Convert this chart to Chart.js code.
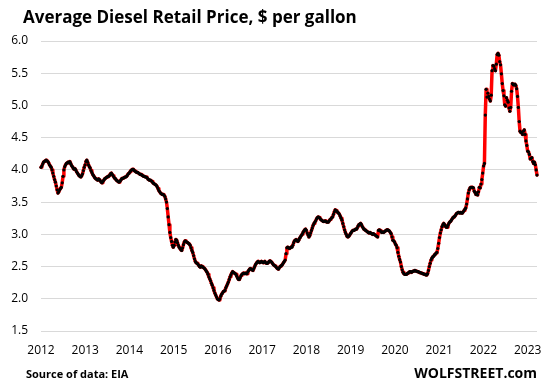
<!DOCTYPE html>
<html>
<head>
<meta charset="utf-8">
<script src="https://cdn.jsdelivr.net/npm/chart.js@4.4.1/dist/chart.umd.min.js"></script>
<style>
	html, body { margin: 0; padding: 0; background: #fff; }
	#wrap { position: relative; width: 543px; height: 387px; overflow: hidden; }
	#title { position: absolute; left: 23px; top: 5px; font: bold 17px "Open Sans", sans-serif; color: #000; white-space: nowrap; }
	#source { position: absolute; left: 26px; top: 366px; font: bold 11px "Open Sans", sans-serif; color: #000; white-space: nowrap; }
	#brand { position: absolute; right: 6px; top: 363px; font: bold 14px "Open Sans", sans-serif; color: #000; white-space: nowrap; }
</style>
</head>
<body>
<div id="wrap">
	<canvas id="diesel" width="543" height="387"></canvas>
	<div id="title">Average Diesel Retail Price, $ per gallon</div>
	<div id="source">Source of data: EIA</div>
	<div id="brand">WOLFSTREET.com</div>
</div>
<script>
// Weekly retail diesel price, $ per gallon, one array per chart year.
var y2012 = [ 4.04, 4.06, 4.09, 4.12, 4.13, 4.14, 4.15, 4.14, 4.13, 4.11, 4.08, 4.06, 4.04, 4.00, 3.95, 3.90, 3.85, 3.81, 3.75, 3.69, 3.64, 3.66, 3.69, 3.71, 3.73, 3.80, 3.90, 4.00, 4.05, 4.08, 4.10, 4.11, 4.12, 4.11, 4.13, 4.10, 4.07, 4.05, 4.03, 4.01, 4.02, 4.00, 3.97, 3.95, 3.93, 3.91, 3.90, 3.89, 3.91, 3.94, 3.99, 4.04 ];
var y2013 = [ 4.08, 4.13, 4.15, 4.12, 4.08, 4.05, 4.03, 3.99, 3.96, 3.93, 3.91, 3.89, 3.87, 3.86, 3.85, 3.84, 3.86, 3.85, 3.83, 3.81, 3.80, 3.82, 3.84, 3.86, 3.87, 3.88, 3.89, 3.90, 3.90, 3.92, 3.94, 3.95, 3.93, 3.91, 3.89, 3.87, 3.86, 3.84, 3.83, 3.82, 3.81, 3.82, 3.84, 3.86, 3.87, 3.87, 3.88, 3.89, 3.89, 3.90, 3.92, 3.94 ];
var y2014 = [ 3.95, 3.97, 3.99, 4.00, 4.01, 4.01, 3.99, 3.98, 3.97, 3.96, 3.96, 3.95, 3.94, 3.93, 3.93, 3.92, 3.91, 3.90, 3.90, 3.89, 3.89, 3.88, 3.86, 3.85, 3.84, 3.84, 3.83, 3.82, 3.80, 3.79, 3.78, 3.77, 3.76, 3.74, 3.71, 3.68, 3.66, 3.64, 3.63, 3.62, 3.62, 3.61, 3.59, 3.55, 3.50, 3.40, 3.27, 3.15, 3.03, 2.95, 2.89, 2.83 ];
var y2015 = [ 2.80, 2.83, 2.88, 2.92, 2.91, 2.87, 2.83, 2.80, 2.78, 2.76, 2.75, 2.79, 2.84, 2.88, 2.90, 2.89, 2.88, 2.87, 2.86, 2.85, 2.83, 2.79, 2.75, 2.72, 2.67, 2.62, 2.58, 2.56, 2.55, 2.54, 2.52, 2.50, 2.49, 2.51, 2.50, 2.49, 2.48, 2.47, 2.45, 2.43, 2.41, 2.38, 2.34, 2.31, 2.28, 2.24, 2.21, 2.17, 2.13, 2.09, 2.06, 2.03 ];
var y2016 = [ 2.00, 1.99, 1.98, 2.00, 2.04, 2.07, 2.09, 2.11, 2.12, 2.13, 2.17, 2.20, 2.23, 2.26, 2.30, 2.34, 2.37, 2.40, 2.42, 2.41, 2.40, 2.39, 2.38, 2.35, 2.32, 2.30, 2.30, 2.33, 2.36, 2.38, 2.39, 2.40, 2.39, 2.40, 2.39, 2.39, 2.42, 2.44, 2.46, 2.47, 2.46, 2.45, 2.44, 2.47, 2.50, 2.53, 2.55, 2.57, 2.58, 2.57, 2.56, 2.57 ];
var y2017 = [ 2.58, 2.57, 2.56, 2.57, 2.58, 2.56, 2.55, 2.55, 2.56, 2.58, 2.59, 2.58, 2.57, 2.55, 2.53, 2.52, 2.51, 2.50, 2.48, 2.47, 2.46, 2.48, 2.50, 2.51, 2.52, 2.54, 2.56, 2.58, 2.60, 2.70, 2.79, 2.80, 2.79, 2.78, 2.79, 2.80, 2.80, 2.83, 2.87, 2.90, 2.91, 2.92, 2.90, 2.89, 2.91, 2.94, 2.96, 2.98, 3.00, 3.03, 3.05, 3.07 ];
var y2018 = [ 3.08, 3.06, 3.02, 2.99, 2.96, 2.98, 3.02, 3.06, 3.10, 3.14, 3.17, 3.19, 3.21, 3.24, 3.26, 3.27, 3.26, 3.25, 3.23, 3.22, 3.21, 3.20, 3.20, 3.21, 3.20, 3.19, 3.19, 3.19, 3.21, 3.23, 3.24, 3.26, 3.27, 3.31, 3.35, 3.38, 3.37, 3.36, 3.34, 3.33, 3.31, 3.28, 3.25, 3.22, 3.17, 3.12, 3.07, 3.03, 3.00, 2.97, 2.96, 2.97 ];
var y2019 = [ 2.99, 3.01, 3.03, 3.05, 3.06, 3.06, 3.07, 3.08, 3.08, 3.10, 3.13, 3.15, 3.16, 3.17, 3.15, 3.12, 3.10, 3.08, 3.07, 3.06, 3.05, 3.04, 3.03, 3.02, 3.03, 3.02, 3.01, 3.00, 3.01, 3.00, 2.99, 2.98, 2.97, 2.96, 3.06, 3.07, 3.06, 3.04, 3.03, 3.04, 3.03, 3.04, 3.05, 3.06, 3.07, 3.07, 3.06, 3.05, 3.03, 3.01, 2.96, 2.91 ];
var y2020 = [ 2.90, 2.88, 2.85, 2.83, 2.79, 2.72, 2.66, 2.61, 2.57, 2.50, 2.45, 2.41, 2.39, 2.38, 2.38, 2.38, 2.39, 2.40, 2.41, 2.42, 2.42, 2.41, 2.42, 2.43, 2.43, 2.44, 2.43, 2.43, 2.42, 2.42, 2.41, 2.41, 2.40, 2.40, 2.39, 2.39, 2.38, 2.38, 2.37, 2.37, 2.39, 2.44, 2.50, 2.55, 2.60, 2.63, 2.65, 2.66, 2.68, 2.69, 2.71, 2.72 ];
var y2021 = [ 2.78, 2.86, 2.95, 3.02, 3.07, 3.12, 3.15, 3.17, 3.15, 3.13, 3.11, 3.11, 3.14, 3.17, 3.19, 3.20, 3.22, 3.24, 3.26, 3.27, 3.28, 3.30, 3.32, 3.33, 3.34, 3.34, 3.33, 3.34, 3.33, 3.33, 3.35, 3.37, 3.39, 3.41, 3.47, 3.55, 3.64, 3.69, 3.72, 3.73, 3.73, 3.73, 3.72, 3.67, 3.65, 3.62, 3.64, 3.61, 3.66, 3.73, 3.72, 3.78 ];
var y2022 = [ 3.85, 3.95, 4.06, 4.10, 4.85, 5.25, 5.13, 5.19, 5.14, 5.10, 5.07, 5.16, 5.54, 5.62, 5.61, 5.57, 5.54, 5.64, 5.79, 5.81, 5.78, 5.68, 5.63, 5.49, 5.34, 5.23, 5.15, 5.01, 4.99, 5.12, 5.08, 5.05, 4.96, 4.91, 4.97, 5.22, 5.34, 5.32, 5.32, 5.33, 5.31, 5.26, 5.14, 4.97, 4.75, 4.60, 4.58, 4.58, 4.55, 4.60, 4.62, 4.55 ];
var y2023 = [ 4.45, 4.38, 4.29, 4.28, 4.24, 4.17, 4.18, 4.19, 4.13, 4.10, 4.12, 4.08, 4.00, 3.92 ];

var yearTicks  = [ 2012, 2013, 2014, 2015, 2016, 2017, 2018, 2019, 2020, 2021, 2022, 2023 ];
var priceTicks = [ 1.5, 2.0, 2.5, 3.0, 3.5, 4.0, 4.5, 5.0, 5.5, 6.0 ];

var weeksPerYear = 52.18;
var prices = [].concat( y2012, y2013, y2014, y2015, y2016, y2017, y2018, y2019, y2020, y2021, y2022, y2023 );
var points = prices.map( function ( v, i ) {
	return { x: 2012 + i / weeksPerYear, y: v };
} );
var lastX = points[ points.length - 1 ].x;

var labelFont = { family: '"Open Sans", sans-serif', size: 12 };

// Fixed axis boxes so the plot area lands where the original has it.
function fitXAxis( axis ) {
	axis.height        = 25;
	axis.paddingLeft   = 0;
	axis.paddingRight  = 0;
}
function fitYAxis( axis ) {
	axis.width         = 31;
	axis.paddingTop    = 0;
	axis.paddingBottom = 0;
}

new Chart( document.getElementById( 'diesel' ), {
	type: 'line',
	data: {
		datasets: [
			{
				data: points,
				borderColor: '#ff0000',
				borderWidth: 3.5,
				borderJoinStyle: 'round',
				borderCapStyle: 'round',
				pointRadius: 1.6,
				pointBackgroundColor: '#000000',
				pointBorderWidth: 0,
				pointHoverRadius: 0,
				tension: 0,
				fill: false,
				clip: false,
			},
		],
	},
	options: {
		responsive: false,
		animation: false,
		devicePixelRatio: 1,
		layout: {
			padding: { top: 41, left: 10, right: 6, bottom: 31 },
		},
		plugins: {
			legend: { display: false },
			title: { display: false },
			tooltip: { enabled: false },
		},
		scales: {
			x: {
				type: 'linear',
				min: 2012,
				max: lastX,
				afterBuildTicks: function ( axis ) {
					axis.ticks = yearTicks.map( function ( v ) { return { value: v }; } );
				},
				afterFit: fitXAxis,
				grid: { display: false, drawTicks: false },
				border: { display: false },
				ticks: {
					autoSkip: false,
					maxRotation: 0,
					padding: 12,
					color: '#000',
					font: labelFont,
					callback: function ( value ) {
						return String( value );
					},
				},
			},
			y: {
				min: 1.5,
				max: 6,
				afterBuildTicks: function ( axis ) {
					axis.ticks = priceTicks.map( function ( v ) { return { value: v }; } );
				},
				afterFit: fitYAxis,
				grid: { color: '#d9d9d9', lineWidth: 1, drawTicks: false },
				border: { display: false },
				ticks: {
					padding: 13,
					color: '#000',
					font: labelFont,
					callback: function ( value ) {
						return value.toFixed( 1 );
					},
				},
			},
		},
	},
} );
</script>
</body>
</html>
